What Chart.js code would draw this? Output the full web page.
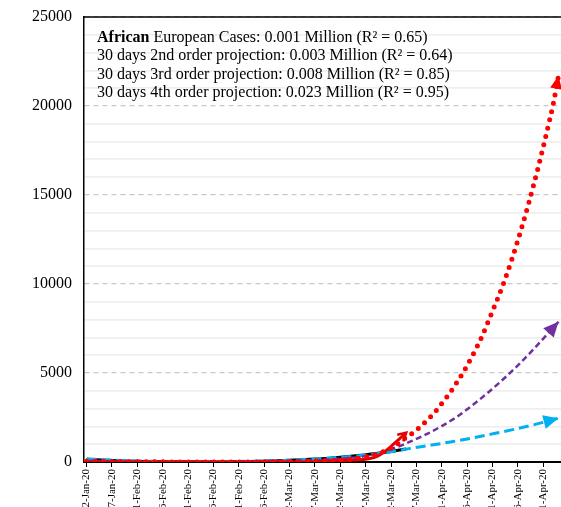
<!DOCTYPE html>
<html>
<head>
<meta charset="utf-8">
<script src="https://cdn.jsdelivr.net/npm/chart.js@4/dist/chart.umd.min.js"></script>
<style>
  html, body { margin: 0; padding: 0; background: #ffffff; overflow: hidden; }
  #wrap { width: 561px; height: 507px; overflow: hidden; }
</style>
</head>
<body>
<div id="wrap"><canvas id="c" width="561" height="507"></canvas></div>
<script>
// ---- Tick labels (x axis, one every 5 days starting 22-Jan-20) ----
const dateLabels = ['22-Jan-20','27-Jan-20','01-Feb-20','06-Feb-20','11-Feb-20','16-Feb-20','21-Feb-20',
  '26-Feb-20','02-Mar-20','07-Mar-20','12-Mar-20','17-Mar-20','22-Mar-20','27-Mar-20','01-Apr-20',
  '06-Apr-20','11-Apr-20','16-Apr-20','21-Apr-20'];
const tickDays = [0,5,10,15,20,25,30,35,40,45,50,55,60,65,70,75,80,85,90];

// ---- Legend-like annotation lines ----
const noteBold = 'African';
const noteLines = [
  ' European Cases: 0.001 Million (R\u00B2 = 0.65)',
  '30 days 2nd order projection: 0.003 Million (R\u00B2 = 0.64)',
  '30 days 3rd order projection: 0.008 Million (R\u00B2 = 0.85)',
  '30 days 4th order projection: 0.023 Million (R\u00B2 = 0.95)'
];

// ---- Series (x = days since 22-Jan-20) ----
const casesFitDays   = [0,3,6,9,12,15,18,21,24,27,30,33,36,39,42,45,48,51,54,57,60,63];
const casesFitValues = [160,115,75,45,22,8,0,0,0,5,15,32,55,85,125,170,215,290,380,475,590,730];

const casesDays   = [0,10,20,30,35,40,42,44,46,48,50,52,54,55,56,57,58,59,60,61,62,63];
const casesValues = [0,0,0,0,0,2,5,15,30,50,75,100,130,160,210,290,440,640,880,1130,1390,1650];

const proj2Days   = [0,5,10,15,20,25,30,35,40,45,50,55,60,64,68,72,76,80,84,88,93];
const proj2Values = [170,105,60,30,15,15,30,60,105,170,265,390,570,770,950,1140,1350,1580,1820,2080,2460];

const proj3Days   = [0,5,10,15,20,25,30,35,40,45,50,55,58,61,64,67,70,73,76,79,82,85,88,91,93];
const proj3Values = [60,45,35,30,30,30,35,45,70,110,180,330,530,820,1170,1560,2020,2540,3180,3870,4620,5430,6310,7240,7880];

const proj4Days   = [0,10,20,30,40,45,50,53,55,57,59,60,61,62,63,64,65,66,67,68,69,70,71,72,73,74,75,76,77,78,79,80,81,82,83,84,85,86,87,88,89,90,91,92,93];
const proj4Values = [40,15,5,5,20,50,110,190,280,420,640,780,950,1150,1380,1570,1790,2040,2320,2600,2920,3290,3650,4050,4480,4930,5420,5950,6500,7100,7780,8480,9170,9900,10700,11550,12450,13400,14400,15450,16550,17700,18900,20150,21700];

const pts = (d, v) => d.map((x, i) => ({ x: x, y: v[i] }));

const serif = '"Liberation Serif", "Times New Roman", serif';

const framePlugin = {
  id: 'frameAndNotes',
  afterDatasetsDraw(chart) {
    const ctx = chart.ctx;
    chart.data.datasets.forEach((ds, i) => {
      if (!ds.arrow) return;
      const meta = chart.getDatasetMeta(i);
      const n = meta.data.length;
      const p1 = meta.data[n - 1];
      let fx = meta.data[n - 2].x, fy = meta.data[n - 2].y;
      if (p1.cp1x !== undefined && !isNaN(p1.cp1x) && (Math.abs(p1.cp1x - p1.x) + Math.abs(p1.cp1y - p1.y)) > 0.5) {
        fx = p1.cp1x; fy = p1.cp1y;
      }
      const ang = Math.atan2(p1.y - fy, p1.x - fx);
      const L = ds.arrow.len, W = ds.arrow.half;
      ctx.save();
      ctx.translate(p1.x, p1.y);
      ctx.rotate(ang);
      ctx.beginPath();
      if (ds.arrow.open) {
        ctx.moveTo(-L, -W); ctx.lineTo(0, 0); ctx.lineTo(-L, W);
        ctx.strokeStyle = ds.borderColor; ctx.lineWidth = 2.5; ctx.lineJoin = 'miter';
        ctx.stroke();
      } else {
        ctx.moveTo(0, 0); ctx.lineTo(-L, -W); ctx.lineTo(-L, W); ctx.closePath();
        ctx.fillStyle = ds.borderColor; ctx.fill();
      }
      ctx.restore();
    });
  },
  afterDraw(chart) {
    const ctx = chart.ctx;
    const a = chart.chartArea;
    ctx.save();
    ctx.strokeStyle = '#000'; ctx.lineWidth = 1.5;
    ctx.beginPath(); ctx.moveTo(a.left, a.top); ctx.lineTo(a.right, a.top); ctx.stroke();
    ctx.fillStyle = '#000';
    ctx.textBaseline = 'alphabetic';
    const x0 = a.left + 13;
    const base = [41.5, 60, 78.5, 97];
    ctx.font = 'bold 16px ' + serif;
    ctx.fillText(noteBold, x0, base[0]);
    const bw = ctx.measureText(noteBold).width;
    ctx.font = '16px ' + serif;
    ctx.fillText(noteLines[0], x0 + bw, base[0]);
    for (let i = 1; i < noteLines.length; i++) ctx.fillText(noteLines[i], x0, base[i]);
    ctx.restore();
  }
};

new Chart(document.getElementById('c'), {
  type: 'line',
  data: {
    datasets: [
      { label: 'proj4', data: pts(proj4Days, proj4Values), borderColor: '#FF0000', borderWidth: 5,
        borderDash: [0, 8.5], borderCapStyle: 'round', pointRadius: 0, fill: false,
        cubicInterpolationMode: 'monotone', order: 0, arrow: { len: 13, half: 6 } },
      { label: 'cases', data: pts(casesDays, casesValues), borderColor: '#E00000', borderWidth: 3,
        pointRadius: 0, fill: false, cubicInterpolationMode: 'monotone', order: 1,
        arrow: { len: 8, half: 4.5, open: true } },
      { label: 'proj3', data: pts(proj3Days, proj3Values), borderColor: '#7030A0', borderWidth: 2.5,
        borderDash: [6, 3.5], pointRadius: 0, fill: false, cubicInterpolationMode: 'monotone', order: 2,
        arrow: { len: 15, half: 7 } },
      { label: 'proj2', data: pts(proj2Days, proj2Values), borderColor: '#00B0F0', borderWidth: 3,
        borderDash: [10, 5], pointRadius: 0, fill: false, cubicInterpolationMode: 'monotone', order: 3,
        arrow: { len: 15, half: 7 } },
      { label: 'casesFit', data: pts(casesFitDays, casesFitValues), borderColor: '#000000', borderWidth: 3,
        pointRadius: 0, fill: false, cubicInterpolationMode: 'monotone', order: 4 }
    ]
  },
  options: {
    responsive: false,
    animation: false,
    layout: { padding: { top: 17, right: 0, left: 0, bottom: 0 } },
    plugins: { legend: { display: false }, tooltip: { enabled: false } },
    scales: {
      x: {
        type: 'linear', min: -0.5, max: 93.5,
        afterBuildTicks(scale) { scale.ticks = tickDays.map(v => ({ value: v })); },
        afterFit(scale) { scale.height = 45; scale.paddingLeft = 0; scale.paddingRight = 0; },
        ticks: {
          autoSkip: false, maxRotation: 90, minRotation: 90, padding: 2,
          color: '#000', font: { family: serif, size: 11 },
          callback: (v) => { const i = tickDays.indexOf(v); return i >= 0 ? dateLabels[i] : ''; }
        },
        grid: { display: true, drawOnChartArea: false, drawTicks: true, tickLength: 5, tickColor: '#000', lineWidth: 1 },
        border: { display: true, color: '#000', width: 2 }
      },
      y: {
        min: 0, max: 25000,
        afterFit(scale) { scale.width = 84; scale.paddingTop = 0; scale.paddingBottom = 0; },
        ticks: {
          stepSize: 1000, autoSkip: false, padding: 12, color: '#000',
          font: { family: serif, size: 16 },
          callback: (v) => (v % 5000 === 0 ? String(v) : '')
        },
        grid: {
          drawTicks: false,
          color: (c) => (c.tick && c.tick.value % 5000 === 0 ? '#c8c8c8' : '#efefef'),
          lineWidth: (c) => (c.tick && c.tick.value % 5000 === 0 ? 1.2 : 1.8)
        },
        border: {
          display: true, color: '#000', width: 1.5,
          dash: (c) => (c.tick && c.tick.value % 5000 === 0 ? [5, 4] : [])
        }
      }
    }
  },
  plugins: [framePlugin]
});
</script>
</body>
</html>
